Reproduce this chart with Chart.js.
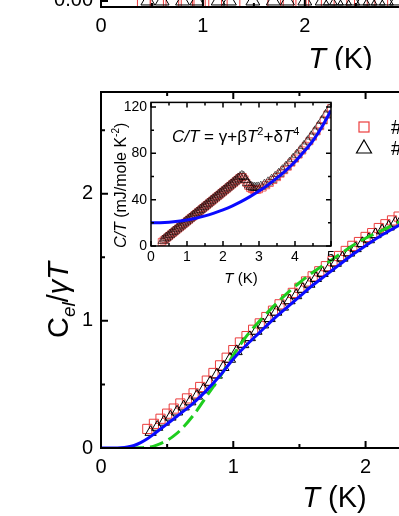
<!DOCTYPE html>
<html>
<head>
<meta charset="utf-8">
<script src="https://cdn.jsdelivr.net/npm/chart.js@4"></script>
<style>
  html, body { margin: 0; padding: 0; width: 399px; height: 516px; overflow: hidden; background: #fff; }
  canvas { position: absolute; left: 0; top: 0; }
</style>
</head>
<body>
<canvas id="panelTop" width="640" height="250" style="top:-180px"></canvas>
<canvas id="panelMain" width="620" height="516"></canvas>
<canvas id="panelInset" width="245" height="205" style="left:100px;top:90px"></canvas>
<script>
// ---- top panel (lower edge of the previous figure) ----
const topT1 = [0.42, 0.55, 0.70, 0.85, 0.96, 1.12, 1.30, 1.70, 1.85, 1.95, 2.10, 2.35, 2.55, 2.75];
const topV1 = [0, 0, 0, 0, 0, 0, 0, 0, 0, 0, 0, 0, 0, 0];
const topT2 = [0.46, 0.60, 0.80, 0.94, 1.15, 1.26, 1.49, 1.69, 1.83, 2.00, 2.17, 2.25, 2.31, 2.39, 2.47, 2.57, 2.64, 2.72, 2.80, 2.90];
const topV2 = [0, 0, 0, 0, 0, 0, 0, 0, 0, 0, 0, 0, 0, 0, 0, 0, 0, 0, 0, 0];

// ---- main panel: Cel / gamma T ----
const mainT1 = [0.35, 0.40, 0.45, 0.50, 0.55, 0.60, 0.65, 0.70, 0.75, 0.80, 0.85, 0.90, 0.95, 1.00, 1.05, 1.10, 1.15, 1.20, 1.25, 1.30, 1.35, 1.40, 1.45, 1.50, 1.55, 1.60, 1.65, 1.70, 1.75, 1.80, 1.85, 1.90, 1.95, 2.00, 2.05, 2.10, 2.15, 2.20, 2.25, 2.30, 2.35];
const mainV1 = [0.15, 0.19, 0.23, 0.27, 0.31, 0.35, 0.39, 0.43, 0.48, 0.53, 0.59, 0.65, 0.71, 0.77, 0.83, 0.88, 0.93, 0.98, 1.03, 1.08, 1.13, 1.17, 1.22, 1.26, 1.31, 1.35, 1.39, 1.43, 1.47, 1.51, 1.55, 1.59, 1.62, 1.66, 1.69, 1.73, 1.76, 1.79, 1.82, 1.85, 1.87];
const mainT2 = [0.375, 0.425, 0.475, 0.525, 0.575, 0.625, 0.675, 0.725, 0.775, 0.825, 0.875, 0.925, 0.975, 1.025, 1.075, 1.125, 1.175, 1.225, 1.275, 1.325, 1.375, 1.425, 1.475, 1.525, 1.575, 1.625, 1.675, 1.725, 1.775, 1.825, 1.875, 1.925, 1.975, 2.025, 2.075, 2.125, 2.175, 2.225, 2.275, 2.325];
const mainV2 = [0.125, 0.165, 0.205, 0.245, 0.285, 0.325, 0.365, 0.41, 0.46, 0.515, 0.575, 0.635, 0.70, 0.76, 0.815, 0.87, 0.92, 0.97, 1.02, 1.07, 1.11, 1.16, 1.20, 1.25, 1.29, 1.335, 1.375, 1.415, 1.455, 1.495, 1.535, 1.57, 1.61, 1.64, 1.68, 1.71, 1.74, 1.77, 1.80, 1.83];
const fitT = [0, 0.1, 0.15, 0.2, 0.25, 0.3, 0.35, 0.4, 0.5, 0.6, 0.7, 0.8, 0.9, 1.0, 1.1, 1.2, 1.3, 1.4, 1.5, 1.6, 1.7, 1.8, 1.9, 2.0, 2.1, 2.2, 2.3, 2.4];
const fitBlue = [0, 0, 0.002, 0.008, 0.02, 0.042, 0.072, 0.11, 0.19, 0.27, 0.355, 0.455, 0.57, 0.70, 0.81, 0.91, 1.01, 1.10, 1.19, 1.28, 1.36, 1.44, 1.52, 1.59, 1.66, 1.72, 1.78, 1.83];
const bcsT = [0.22, 0.3, 0.35, 0.4, 0.45, 0.5, 0.55, 0.6, 0.7, 0.8, 0.9, 1.0, 1.1, 1.2, 1.3, 1.4, 1.5, 1.6, 1.7, 1.8, 1.9, 2.0, 2.1, 2.2, 2.3, 2.4];
const bcsGreen = [0, 0.002, 0.005, 0.015, 0.035, 0.06, 0.095, 0.14, 0.26, 0.41, 0.56, 0.73, 0.88, 1.0, 1.11, 1.21, 1.30, 1.38, 1.45, 1.52, 1.59, 1.65, 1.70, 1.75, 1.80, 1.85];

// ---- inset: C/T ----
const insetT1 = [0.30, 0.35, 0.40, 0.45, 0.50, 0.55, 0.60, 0.65, 0.70, 0.75, 0.80, 0.85, 0.90, 0.95, 1.00, 1.05, 1.10, 1.15, 1.20, 1.25, 1.30, 1.35, 1.40, 1.45, 1.50, 1.55, 1.60, 1.65, 1.70, 1.75, 1.80, 1.85, 1.90, 1.95, 2.00, 2.05, 2.10, 2.15, 2.20, 2.25, 2.30, 2.35, 2.40, 2.45, 2.50, 2.55, 2.60, 2.65, 2.70, 2.75, 2.80, 2.85, 2.90, 2.95, 3.00,
    3.1, 3.2, 3.3, 3.4, 3.5, 3.6, 3.7, 3.8, 3.9, 4.0, 4.1, 4.2, 4.3, 4.4, 4.5, 4.6, 4.7, 4.8, 4.9, 5.0];
const insetV1 = [3.5, 4.8, 6.0, 7.3, 8.6, 9.9, 11.2, 12.4, 13.7, 15.0, 16.2, 17.5, 18.8, 20.0, 21.3, 22.6, 23.9, 25.1, 26.4, 27.7, 29.0, 30.2, 31.5, 32.8, 34.0, 35.3, 36.6, 37.9, 39.1, 40.4, 41.7, 43.0, 44.2, 45.5, 46.8, 48.1, 49.3, 50.6, 51.9, 53.2, 54.5, 55.8, 57.1, 58.5, 59.6, 59.5, 57.5, 54.5, 52.0, 50.2, 49.2, 48.6, 48.4, 48.6, 49.0,
    50.5, 52.5, 54.5, 57, 59.5, 62.5, 65.5, 68.5, 72, 75.5, 79, 82.5, 86.5, 90.5, 94.5, 99, 103.5, 108.5, 113.5, 119];
const insetT2 = [0.325, 0.375, 0.425, 0.475, 0.525, 0.575, 0.625, 0.675, 0.725, 0.775, 0.825, 0.875, 0.925, 0.975, 1.025, 1.075, 1.125, 1.175, 1.225, 1.275, 1.325, 1.375, 1.425, 1.475, 1.525, 1.575, 1.625, 1.675, 1.725, 1.775, 1.825, 1.875, 1.925, 1.975, 2.025, 2.075, 2.125, 2.175, 2.225, 2.275, 2.325, 2.375, 2.425, 2.475, 2.525, 2.575, 2.625, 2.675, 2.725, 2.775, 2.825, 2.875, 2.925, 2.975,
    3.05, 3.15, 3.25, 3.35, 3.45, 3.55, 3.65, 3.75, 3.85, 3.95, 4.05, 4.15, 4.25, 4.35, 4.45, 4.55, 4.65, 4.75, 4.85, 4.95];
const insetV2 = [4.6, 5.9, 7.2, 8.4, 9.7, 11.0, 12.3, 13.5, 14.8, 16.1, 17.3, 18.6, 19.9, 21.2, 22.4, 23.7, 25.0, 26.2, 27.5, 28.8, 30.1, 31.3, 32.6, 33.9, 35.2, 36.4, 37.7, 39.0, 40.3, 41.5, 42.8, 44.1, 45.4, 46.6, 47.9, 49.2, 50.5, 51.8, 53.1, 54.4, 55.7, 57.0, 58.3, 59.6, 60.6, 59.8, 57.2, 54.6, 52.6, 51.3, 50.6, 50.3, 50.3, 50.6,
    51.3, 53, 55, 57.3, 59.8, 62.5, 65.5, 68.6, 72, 75.5, 79, 82.7, 86.5, 90.5, 94.7, 99, 103.5, 108.2, 113.2, 118];
const insetFitT = [0, 0.25, 0.5, 0.75, 1, 1.25, 1.5, 1.75, 2, 2.25, 2.5, 2.75, 3, 3.25, 3.5, 3.75, 4, 4.25, 4.5, 4.75, 5];
const insetFit = [20, 20.1, 20.5, 21.3, 22.5, 24, 26, 28.4, 31.2, 34.5, 38.3, 42.6, 47.4, 52.8, 58.8, 65.4, 72.7, 81.5, 91, 103, 117];

const FAM = 'Arial, "Liberation Sans", Helvetica, sans-serif';
const RED = 'rgb(235, 60, 60)';
const BLUE = 'rgb(10, 10, 255)';
const GREEN = 'rgb(30, 205, 30)';

function pts(xs, ys) {
    return xs.map((x, i) => ({ x: x, y: ys[i] }));
}

// text made of pieces with their own font and vertical shift
function rich(ctx, parts, x, y, rot, align) {
    ctx.save();
    ctx.translate(x, y);
    ctx.rotate(rot);
    ctx.fillStyle = '#000';
    ctx.textAlign = 'left';
    ctx.textBaseline = 'alphabetic';
    let w = 0;
    parts.forEach((p) => {
        ctx.font = p.f;
        p.w = ctx.measureText(p.t).width;
        w += p.w;
    });
    let cx = align === 'center' ? -w / 2 : 0;
    parts.forEach((p) => {
        ctx.font = p.f;
        ctx.fillText(p.t, cx, p.dy || 0);
        cx += p.w;
    });
    ctx.restore();
}

// frame on all four sides with ticks pointing inwards
const insideTicks = {
    id: "insideTicks",
    afterDatasetsDraw(chart, args, opts) {
        const { ctx, chartArea: a, scales } = chart;
        ctx.save();
        ctx.strokeStyle = "#000";
        ctx.lineWidth = opts.lw;
        ctx.strokeRect(a.left, a.top, a.right - a.left, a.bottom - a.top);
        ["x", "y"].forEach((id) => {
            const s = scales[id];
            const major = s.ticks.map((t) => t.value);
            const step = major[1] - major[0];
            const minor = [major[0] - step / 2].concat(major.map((v) => v + step / 2))
                .filter((v) => v >= s.min && v <= s.max);
            const mark = (v, len) => {
                const p = s.getPixelForValue(v);
                ctx.beginPath();
                if (id === "x") {
                    ctx.moveTo(p, a.bottom); ctx.lineTo(p, a.bottom - len);
                    ctx.moveTo(p, a.top); ctx.lineTo(p, a.top + len);
                } else {
                    ctx.moveTo(a.left, p); ctx.lineTo(a.left + len, p);
                    ctx.moveTo(a.right, p); ctx.lineTo(a.right - len, p);
                }
                ctx.stroke();
            };
            major.forEach((v) => mark(v, opts.major));
            minor.forEach((v) => mark(v, opts.minor));
        });
        ctx.restore();
    },
};

function axis(min, max, step, size, pad, fmt, fit) {
    return {
        type: "linear",
        min: min,
        max: max,
        grid: { display: false, drawTicks: false },
        border: { display: false },
        ticks: {
            stepSize: step,
            includeBounds: false,
            color: "#000",
            padding: pad,
            maxRotation: 0,
            font: { family: FAM, size: size },
            callback: fmt,
        },
        afterFit: fit,
    };
}

// ---------- top panel ----------
new Chart(document.getElementById("panelTop"), {
    type: "scatter",
    data: {
        datasets: [
            { data: pts(topT2, topV2), pointStyle: "triangle", pointRadius: 8, borderColor: "#000", borderWidth: 1, backgroundColor: "rgba(0,0,0,0)", order: 1 },
            { data: pts(topT1, topV1), pointStyle: "rect", pointRadius: 9, borderColor: RED, borderWidth: 1, backgroundColor: "rgba(0,0,0,0)", order: 2 },
        ],
    },
    options: {
        responsive: false,
        animation: false,
        events: [],
        layout: { padding: { top: 37, right: 60, left: 0, bottom: 0 } },
        scales: {
            x: axis(0, 4.7, 1, 20, 7, (v) => v, (s) => { s.height = 63; }),
            y: axis(-0.0042, 0.1, 0.05, 20, 8, (v) => v.toFixed(2), (s) => { s.width = 101; }),
        },
        plugins: {
            legend: { display: false },
            tooltip: { enabled: false },
            insideTicks: { lw: 2, major: 7, minor: 4 },
        },
    },
    plugins: [insideTicks, {
        id: "topText",
        afterDraw(chart) {
            const a = chart.chartArea;
            rich(chart.ctx, [
                { t: "T", f: "italic 29px " + FAM },
                { t: " (K)", f: "29px " + FAM },
            ], (a.left + a.right) / 2, a.bottom + 61, 0, "center");
        },
    }],
});

// ---------- main panel ----------
new Chart(document.getElementById("panelMain"), {
    type: "scatter",
    data: {
        datasets: [
            { data: pts(fitT, fitBlue), showLine: true, pointRadius: 0, borderColor: BLUE, borderWidth: 3, tension: 0.4, cubicInterpolationMode: "monotone", order: 0 },
            { data: pts(bcsT, bcsGreen), showLine: true, pointRadius: 0, borderColor: GREEN, borderWidth: 3, borderDash: [14, 6], tension: 0.4, cubicInterpolationMode: "monotone", order: 1 },
            { data: pts(mainT2, mainV2), pointStyle: "triangle", pointRadius: 6.5, borderColor: "#000", borderWidth: 1, backgroundColor: "rgba(0,0,0,0)", order: 2 },
            { data: pts(mainT1, mainV1), pointStyle: "rect", pointRadius: 6.5, borderColor: RED, borderWidth: 1, backgroundColor: "rgba(0,0,0,0)", order: 3 },
        ],
    },
    options: {
        responsive: false,
        animation: false,
        events: [],
        layout: { padding: { top: 92, right: 56, left: 0, bottom: 0 } },
        scales: {
            x: axis(0, 3.5, 1, 20, 7, (v) => v, (s) => { s.height = 68; }),
            y: axis(0, 2.8, 1, 20, 8, (v) => v, (s) => { s.width = 101; }),
        },
        plugins: {
            legend: { display: false },
            tooltip: { enabled: false },
            insideTicks: { lw: 2, major: 7, minor: 4 },
        },
    },
    plugins: [insideTicks, {
        id: "mainText",
        afterDraw(chart) {
            const ctx = chart.ctx;
            const a = chart.chartArea;
            rich(ctx, [
                { t: "T", f: "italic 29px " + FAM },
                { t: " (K)", f: "29px " + FAM },
            ], (a.left + a.right) / 2 + 2, a.bottom + 59, 0, "center");
            rich(ctx, [
                { t: "C", f: "29px " + FAM },
                { t: "el", f: "italic 19px " + FAM, dy: 7 },
                { t: "/", f: "29px " + FAM },
                { t: "\u03b3T", f: "italic 29px " + FAM },
            ], 68, 300, -Math.PI / 2, "center");
            // legend
            const lx = a.left + 263;
            ctx.save();
            ctx.lineWidth = 1.2;
            ctx.strokeStyle = RED;
            ctx.strokeRect(lx - 5, 122, 10, 10);
            ctx.strokeStyle = "#000";
            ctx.beginPath();
            ctx.moveTo(lx, 140);
            ctx.lineTo(lx + 7.5, 153);
            ctx.lineTo(lx - 7.5, 153);
            ctx.closePath();
            ctx.stroke();
            ctx.restore();
            rich(ctx, [{ t: "#1", f: "20px " + FAM }], lx + 27, 134, 0, "left");
            rich(ctx, [{ t: "#2", f: "20px " + FAM }], lx + 27, 155, 0, "left");
        },
    }],
});

// ---------- inset ----------
new Chart(document.getElementById("panelInset"), {
    type: "scatter",
    data: {
        datasets: [
            { data: pts(insetFitT, insetFit), showLine: true, pointRadius: 0, borderColor: BLUE, borderWidth: 3, tension: 0.4, cubicInterpolationMode: "monotone", order: 0 },
            { data: pts(insetT2, insetV2), pointStyle: "triangle", pointRadius: 5.5, borderColor: "rgba(0,0,0,0.85)", borderWidth: 0.7, backgroundColor: "rgba(0,0,0,0)", order: 1 },
            { data: pts(insetT1, insetV1), pointStyle: "rect", pointRadius: 5, borderColor: RED, borderWidth: 0.8, backgroundColor: "rgba(0,0,0,0)", order: 2 },
        ],
    },
    options: {
        responsive: false,
        animation: false,
        events: [],
        layout: { padding: { top: 11, right: 14, left: 0, bottom: 0 } },
        scales: {
            x: axis(0, 5, 1, 14, 3, (v) => v, (s) => { s.height = 49; }),
            y: axis(0, 124, 40, 14, 4, (v) => v, (s) => { s.width = 51; }),
        },
        plugins: {
            legend: { display: false },
            tooltip: { enabled: false },
            insideTicks: { lw: 1.5, major: 5, minor: 3 },
        },
    },
    plugins: [insideTicks, {
        id: "insetText",
        afterDraw(chart) {
            const ctx = chart.ctx;
            const a = chart.chartArea;
            rich(ctx, [
                { t: "T", f: "italic 15px " + FAM },
                { t: " (K)", f: "15px " + FAM },
            ], (a.left + a.right) / 2, a.bottom + 37, 0, "center");
            rich(ctx, [
                { t: "C/T", f: "italic 16px " + FAM },
                { t: " (mJ/mole K", f: "16px " + FAM },
                { t: "-2", f: "10px " + FAM, dy: -7 },
                { t: ")", f: "16px " + FAM },
            ], a.left - 25, a.top + 83, -Math.PI / 2, "center");
            rich(ctx, [
                { t: "C/T", f: "italic 17px " + FAM },
                { t: " = \u03b3+\u03b2", f: "17px " + FAM },
                { t: "T", f: "italic 17px " + FAM },
                { t: "2", f: "11px " + FAM, dy: -7 },
                { t: "+\u03b4", f: "17px " + FAM },
                { t: "T", f: "italic 17px " + FAM },
                { t: "4", f: "11px " + FAM, dy: -7 },
            ], a.left + 21, a.top + 40, 0, "left");
        },
    }],
});
</script>
</body>
</html>
